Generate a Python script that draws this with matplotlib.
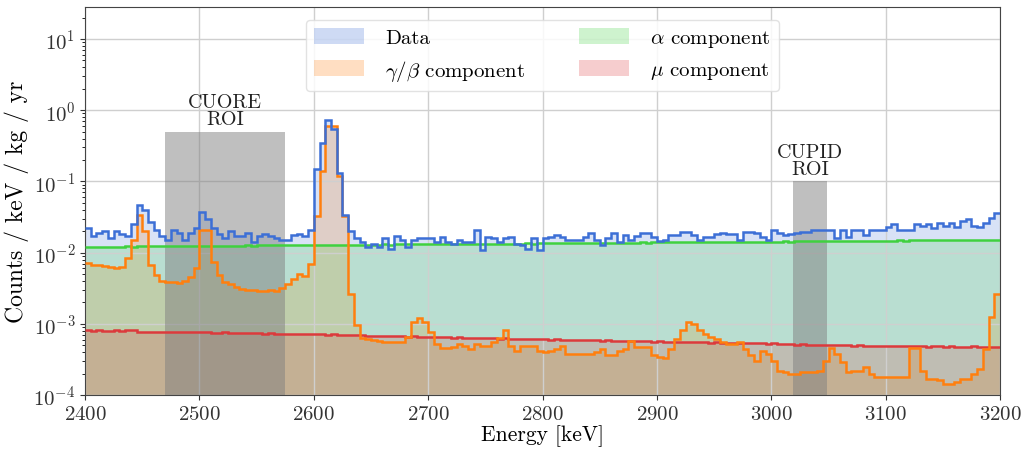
import numpy as np
import matplotlib
matplotlib.use("Agg")
import matplotlib.pyplot as plt
from matplotlib.patches import Patch

# --------------------------
# Spectrum (5 keV bins, 2400-3200 keV), counts / keV / kg / yr
# --------------------------
e_min = 2400
bin_width = 5

data = [
    0.022, 0.017, 0.019, 0.020, 0.016, 0.020, 0.018, 0.017, 0.025, 0.047,
    0.040, 0.027, 0.021, 0.017, 0.015, 0.021, 0.019, 0.015, 0.019, 0.022,
    0.037, 0.030, 0.022, 0.018, 0.016, 0.020, 0.017, 0.017, 0.019, 0.014,
    0.017, 0.018, 0.017, 0.016, 0.015, 0.015, 0.0175, 0.018, 0.017, 0.021,
    0.15, 0.35, 0.73, 0.55, 0.13, 0.034, 0.020, 0.016, 0.014, 0.012,
    0.0134, 0.012, 0.016, 0.0113, 0.017, 0.015, 0.012, 0.015, 0.016, 0.016,
    0.016, 0.014, 0.0166, 0.014, 0.0134, 0.015, 0.014, 0.014, 0.0205, 0.0108,
    0.0166, 0.016, 0.014, 0.016, 0.0166, 0.013, 0.0127, 0.0113, 0.016, 0.0108,
    0.016, 0.0166, 0.0175, 0.0166, 0.015, 0.015, 0.0149, 0.0166, 0.0186, 0.015,
    0.0127, 0.016, 0.0186, 0.014, 0.0178, 0.015, 0.017, 0.0186, 0.019, 0.0166,
    0.0145, 0.015, 0.0175, 0.0175, 0.0195, 0.0195, 0.0175, 0.015, 0.0166, 0.0166,
    0.018, 0.0186, 0.018, 0.018, 0.015, 0.0195, 0.0195, 0.0186, 0.0166, 0.015,
    0.0205, 0.0186, 0.0175, 0.018, 0.019, 0.0195, 0.0195, 0.0205, 0.0205, 0.0205,
    0.0205, 0.016, 0.021, 0.0166, 0.021, 0.021, 0.0175, 0.0205, 0.0205, 0.021,
    0.0228, 0.025, 0.0205, 0.021, 0.0205, 0.025, 0.024, 0.025, 0.022, 0.026,
    0.024, 0.026, 0.023, 0.028, 0.030, 0.024, 0.023, 0.026, 0.031, 0.036,
]

gamma_beta = [
    0.0071, 0.0068, 0.0066, 0.0064, 0.0062, 0.0061, 0.0063, 0.0085, 0.015, 0.034,
    0.020, 0.0066, 0.0048, 0.0040, 0.0039, 0.0039, 0.0038, 0.0040, 0.0046, 0.0060,
    0.021, 0.021, 0.0075, 0.0048, 0.0039, 0.0036, 0.0033, 0.0031, 0.0030, 0.0030,
    0.0029, 0.0029, 0.0030, 0.0029, 0.0032, 0.0036, 0.0042, 0.0050, 0.0047, 0.0070,
    0.033, 0.14, 0.60, 0.60, 0.12, 0.033, 0.0026, 0.00095, 0.00064, 0.00062,
    0.00060, 0.00057, 0.00056, 0.00056, 0.00055, 0.00056, 0.00065, 0.00105, 0.00120, 0.00105,
    0.00077, 0.00052, 0.00046, 0.00046, 0.00047, 0.00052, 0.00049, 0.00044, 0.00052, 0.00049,
    0.00049, 0.00055, 0.00063, 0.00081, 0.00049, 0.00042, 0.00049, 0.00049, 0.00049, 0.00042,
    0.00040, 0.00042, 0.00044, 0.00049, 0.00038, 0.00038, 0.00038, 0.00038, 0.00038, 0.00040,
    0.00044, 0.00036, 0.00036, 0.00042, 0.00044, 0.00058, 0.00047, 0.00047, 0.00047, 0.00036,
    0.00034, 0.00033, 0.00044, 0.00062, 0.00081, 0.00106, 0.00100, 0.00081, 0.00072, 0.00065,
    0.00062, 0.00055, 0.00052, 0.00052, 0.00055, 0.00044, 0.00036, 0.00030, 0.00042, 0.00038,
    0.00030, 0.00022, 0.00021, 0.00020, 0.00020, 0.00021, 0.00021, 0.00021, 0.00022, 0.00030,
    0.00046, 0.00038, 0.00029, 0.00021, 0.00022, 0.00022, 0.00025, 0.00020, 0.00018, 0.00018,
    0.00018, 0.00018, 0.00018, 0.00018, 0.00046, 0.00046, 0.00022, 0.00017, 0.00017, 0.00016,
    0.000145, 0.000145, 0.00015, 0.00017, 0.00017, 0.00020, 0.00023, 0.00044, 0.00124, 0.0026,
]

alpha_comp = [
    0.0120, 0.0120, 0.0121, 0.0120, 0.0121, 0.0121, 0.0121, 0.0122, 0.0121, 0.0122,
    0.0122, 0.0122, 0.0123, 0.0122, 0.0123, 0.0123, 0.0123, 0.0124, 0.0123, 0.0124,
    0.0124, 0.0124, 0.0125, 0.0124, 0.0125, 0.0125, 0.0125, 0.0125, 0.0126, 0.0125,
    0.0126, 0.0126, 0.0126, 0.0126, 0.0127, 0.0126, 0.0127, 0.0127, 0.0127, 0.0127,
    0.0128, 0.0127, 0.0128, 0.0128, 0.0128, 0.0128, 0.0129, 0.0128, 0.0129, 0.0129,
    0.0129, 0.0129, 0.0130, 0.0129, 0.0130, 0.0130, 0.0130, 0.0131, 0.0130, 0.0131,
    0.0131, 0.0131, 0.0132, 0.0131, 0.0132, 0.0132, 0.0132, 0.0133, 0.0132, 0.0133,
    0.0133, 0.0133, 0.0134, 0.0133, 0.0134, 0.0134, 0.0134, 0.0135, 0.0134, 0.0135,
    0.0135, 0.0135, 0.0136, 0.0135, 0.0136, 0.0136, 0.0136, 0.0137, 0.0136, 0.0137,
    0.0137, 0.0137, 0.0138, 0.0137, 0.0138, 0.0138, 0.0138, 0.0139, 0.0138, 0.0139,
    0.0139, 0.0139, 0.0140, 0.0139, 0.0140, 0.0140, 0.0140, 0.0141, 0.0140, 0.0141,
    0.0141, 0.0141, 0.0142, 0.0141, 0.0142, 0.0142, 0.0142, 0.0143, 0.0142, 0.0143,
    0.0143, 0.0143, 0.0144, 0.0143, 0.0144, 0.0144, 0.0144, 0.0145, 0.0144, 0.0145,
    0.0145, 0.0145, 0.0146, 0.0145, 0.0146, 0.0146, 0.0146, 0.0147, 0.0146, 0.0147,
    0.0147, 0.0147, 0.0148, 0.0147, 0.0148, 0.0148, 0.0148, 0.0149, 0.0148, 0.0149,
    0.0149, 0.0149, 0.0150, 0.0149, 0.0150, 0.0150, 0.0150, 0.0150, 0.0151, 0.0150,
]

mu_comp = [
    8.1e-4, 8.0e-4, 8.1e-4, 8.0e-4, 8.0e-4, 8.1e-4, 8.0e-4, 8.1e-4, 8.1e-4, 7.7e-4,
    7.6e-4, 7.7e-4, 7.7e-4, 7.6e-4, 7.7e-4, 7.7e-4, 7.6e-4, 7.7e-4, 7.6e-4, 7.6e-4,
    7.7e-4, 7.6e-4, 7.5e-4, 7.5e-4, 7.6e-4, 7.5e-4, 7.5e-4, 7.4e-4, 7.5e-4, 7.4e-4,
    7.4e-4, 7.3e-4, 7.4e-4, 7.3e-4, 7.2e-4, 7.3e-4, 7.2e-4, 7.2e-4, 7.2e-4, 7.1e-4,
    7.1e-4, 7.1e-4, 7.0e-4, 7.1e-4, 7.0e-4, 6.9e-4, 7.0e-4, 6.9e-4, 6.9e-4, 6.8e-4,
    6.8e-4, 6.8e-4, 6.7e-4, 6.8e-4, 6.7e-4, 6.7e-4, 6.6e-4, 6.7e-4, 6.6e-4, 6.6e-4,
    6.5e-4, 6.6e-4, 6.5e-4, 6.5e-4, 6.4e-4, 6.5e-4, 6.4e-4, 6.4e-4, 6.3e-4, 6.4e-4,
    6.3e-4, 6.3e-4, 6.2e-4, 6.3e-4, 6.2e-4, 6.2e-4, 6.1e-4, 6.2e-4, 6.1e-4, 6.1e-4,
    6.1e-4, 6.0e-4, 6.1e-4, 6.0e-4, 6.0e-4, 5.9e-4, 6.0e-4, 5.9e-4, 5.9e-4, 5.9e-4,
    5.8e-4, 5.9e-4, 5.8e-4, 5.8e-4, 5.7e-4, 5.8e-4, 5.7e-4, 5.7e-4, 5.7e-4, 5.6e-4,
    5.7e-4, 5.6e-4, 5.6e-4, 5.6e-4, 5.5e-4, 5.6e-4, 5.5e-4, 5.5e-4, 5.5e-4, 5.4e-4,
    5.5e-4, 5.4e-4, 5.4e-4, 5.4e-4, 5.3e-4, 5.4e-4, 5.3e-4, 5.3e-4, 5.3e-4, 5.2e-4,
    5.3e-4, 5.2e-4, 5.2e-4, 5.2e-4, 5.1e-4, 5.2e-4, 5.1e-4, 5.1e-4, 5.1e-4, 5.0e-4,
    5.1e-4, 5.0e-4, 5.0e-4, 5.0e-4, 4.9e-4, 5.0e-4, 4.9e-4, 4.9e-4, 4.9e-4, 4.9e-4,
    4.8e-4, 4.9e-4, 4.8e-4, 4.8e-4, 4.9e-4, 4.8e-4, 4.8e-4, 4.7e-4, 4.8e-4, 4.8e-4,
    4.7e-4, 4.8e-4, 4.7e-4, 4.7e-4, 4.7e-4, 4.8e-4, 4.7e-4, 4.7e-4, 4.7e-4, 4.7e-4,
]

# regions of interest: (low, high, top of box, label)
roi_list = [
    (2470, 2575, 0.5, "CUORE\nROI"),
    (3019, 3049, 0.1, "CUPID\nROI"),
]

# --------------------------
# Style
# --------------------------
plt.rcParams['font.family'] = 'serif'
plt.rcParams['font.serif'] = ['cmr10', 'DejaVu Serif']
plt.rcParams['mathtext.fontset'] = 'cm'
plt.rcParams['axes.formatter.use_mathtext'] = True

c_data = '#3c6fd6'
c_gb = '#ff7f0e'
c_alpha = '#3fd13f'
c_mu = '#dc3a3c'
fill_alpha = 0.2

edges = e_min + bin_width * np.arange(len(data) + 1)

fig = plt.figure(figsize=(10.27, 4.52), dpi=100)
ax = fig.add_axes([0.0828, 0.1239, 0.891, 0.858])

series = [
    (data, c_data, 'Data'),
    (gamma_beta, c_gb, r'$\gamma/\beta$ component'),
    (alpha_comp, c_alpha, r'$\alpha$ component'),
    (mu_comp, c_mu, r'$\mu$ component'),
]

handles = []
for vals, col, lab in series:
    ax.stairs(vals, edges, baseline=1e-6, fill=True, color=col,
              alpha=fill_alpha, lw=0, zorder=1)
    handles.append(Patch(facecolor=col, alpha=0.25, edgecolor='none', label=lab))

for vals, col, lab in series[::-1]:
    ax.stairs(vals, edges, baseline=None, color=col, lw=1.8, zorder=3)

for lo, hi, top, lab in roi_list:
    ax.fill_between([lo, hi], [1e-6, 1e-6], [top, top], color='gray',
                    alpha=0.5, lw=0, zorder=2)
    ax.text((lo + hi) / 2, top * 1.12, lab, ha='center', va='bottom',
            fontsize=14.5, linespacing=0.95, color='#222222')

ax.set_yscale('log')
ax.set_xlim(2400, 3200)
ax.set_ylim(1e-4, 28)
ax.set_xticks(np.arange(2400, 3201, 100))
ax.grid(True, which='major', color='#cfcfcf', lw=1.0)
ax.tick_params(labelsize=15, colors='#333333')
for sp in ax.spines.values():
    sp.set_color('#444444')

ax.set_xlabel('Energy [keV]', fontsize=15.5, labelpad=1)
ax.set_ylabel('Counts / keV / kg / yr', fontsize=17, labelpad=3)

ax.legend(handles=handles, loc='upper center', ncol=2, fontsize=15,
          handlelength=2.4, handleheight=0.8, handletextpad=1.0,
          columnspacing=2.6, borderaxespad=0.6, framealpha=0.85,
          edgecolor='#dddddd')

fig.savefig('out.png', dpi=100)
